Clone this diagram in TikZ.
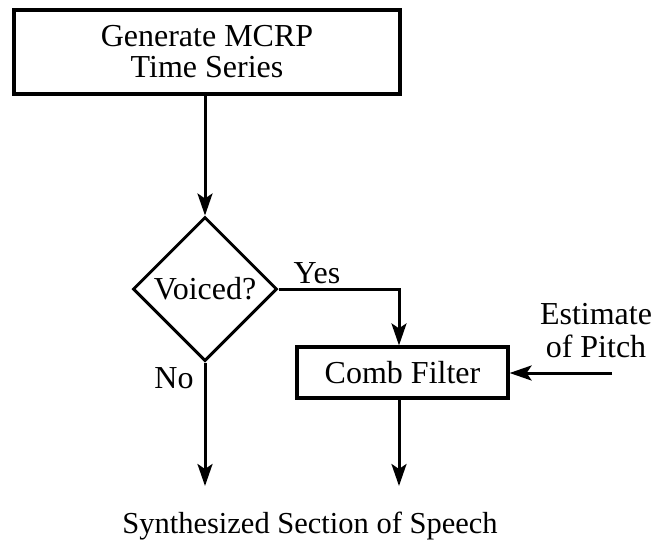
\documentclass[tikz,border=0pt]{standalone}
\usepackage{fontspec}
\setmainfont{Liberation Serif}
\usetikzlibrary{shapes.geometric,arrows.meta}
\begin{document}
\begin{tikzpicture}[x=1pt,y=-1pt,
  every node/.style={font=\fontsize{32}{31}\selectfont},
  procbox/.style={draw,line width=3.2pt,rectangle,inner sep=0pt,align=center},
  decision/.style={draw,line width=3pt,diamond,aspect=1,inner sep=0pt,minimum width=144pt,minimum height=144pt},
  flow/.style={line width=3pt},
  arr/.style={flow,-{Stealth[length=22pt,width=15pt,inset=5pt]}},
  lbl/.style={anchor=base,inner sep=0pt}]
\useasboundingbox (0,0) rectangle (657,541);

% blocks
\node[procbox,minimum width=386pt,minimum height=84pt] (gen) at (207,52) {Generate MCRP\\Time Series};
\node[decision] (dia) at (205,289) {Voiced?};
\node[procbox,minimum width=211pt,minimum height=51pt] (cf) at (402.5,372.5) {Comb Filter};

% labels
\node[lbl] (yes) at (317,283) {Yes};
\node[lbl] (no) at (174,388) {No};
\node[inner sep=0pt,align=center,font=\fontsize{32}{33}\selectfont] (est) at (596,331) {Estimate\\of Pitch};
\node[lbl,font=\fontsize{30.5}{33}\selectfont] (out) at (310,533) {Synthesized Section of Speech};

% connector ends
\coordinate (yc) at (399,289);
\coordinate (outL) at (205,486);
\coordinate (outR) at (399,486);
\coordinate (pin) at (612,373);

% connectors
\draw[arr] (gen.south -| dia.north) -- (dia.north);
\draw[arr] (dia.east) -- (yc) -- (yc |- cf.north);
\draw[arr] (dia.south) -- (outL);
\draw[arr] (cf.south -| outR) -- (outR);
\draw[arr] (pin) -- (pin -| cf.east);
\end{tikzpicture}
\end{document}
